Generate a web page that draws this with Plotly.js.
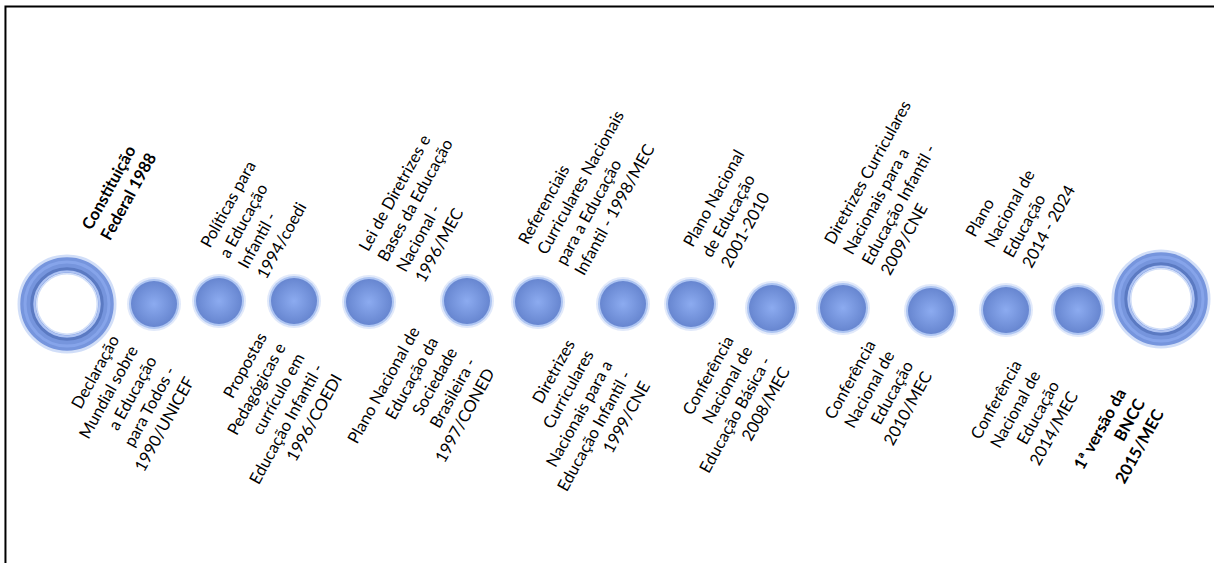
<!DOCTYPE html>
<html>
<head>
<meta charset="utf-8">
<script src="https://cdn.plot.ly/plotly-3.0.1.min.js"></script>
<style>html,body{margin:0;padding:0;background:#fff;}#chart{width:1214px;height:563px;}</style>
</head>
<body>
<div id="chart"></div>
<script>
// ---- data ----
var events = [
  "<b>Constituição<br>Federal 1988</b>",
  "Declaração<br>Mundial sobre<br>a Educação<br>para Todos -<br>1990/UNICEF",
  "Políticas para<br>a Educação<br>Infantil -<br>1994/coedi",
  "Propostas<br>Pedagógicas e<br>currículo em<br>Educação Infantil -<br>1996/COEDI",
  "Lei de Diretrizes e<br>Bases da Educação<br>Nacional -<br>1996/MEC",
  "Plano Nacional de<br>Educação da<br>Sociedade<br>Brasileira -<br>1997/CONED",
  "Referenciais<br>Curriculares Nacionais<br>para a Educação<br>Infantil - 1998/MEC",
  "Diretrizes<br>Curriculares<br>Nacionais para a<br>Educação Infantil -<br>1999/CNE",
  "Plano Nacional<br>de Educação<br>2001-2010",
  "Conferência<br>Nacional de<br>Educação Básica -<br>2008/MEC",
  "Diretrizes Curriculares<br>Nacionais para a<br>Educação Infantil -<br>2009/CNE",
  "Conferência<br>Nacional de<br>Educação<br>2010/MEC",
  "Plano<br>Nacional de<br>Educação<br>2014 - 2024",
  "Conferência<br>Nacional de<br>Educação<br>2014/MEC",
  "<b>1ª versão da<br>BNCC<br>2015/MEC</b>"
];
var years = [1988, 1990, 1994, 1996, 1996, 1997, 1998, 1999, 2001, 2008, 2009, 2010, 2014, 2014, 2015];
var xPos = [67, 154, 219, 294, 369, 467, 538, 623, 691, 772, 843, 931, 1006, 1078, 1161];
var yPos = [304, 304, 301, 301, 302, 301, 302, 304, 304, 308, 308, 311, 310, 310, 299];
var kind = ["ring","dot","dot","dot","dot","dot","dot","dot","dot","dot","dot","dot","dot","dot","ring"];
var side = ["above","below","above","below","above","below","above","below","above","below","above","below","above","below","below"];

// ---- layout helpers (label placement relative to each marker) ----
var labelOffX = [9, 46, -24, 54, -16, 33, -26, 32, -14, 23, -25, 6, -46, 5, 9];
var labelOffY = [-59, 26, -18, 26, -15, 21, -22, 31, -32, 22, -28, 24, -38, 45, 84];

function pick(arr, k) {
  var out = [];
  for (var i = 0; i < arr.length; i++) if (kind[i] === k) out.push(arr[i]);
  return out;
}
var dotX = pick(xPos, "dot"), dotY = pick(yPos, "dot");
var ringX = pick(xPos, "ring"), ringY = pick(yPos, "ring");

function ringLayer(size, width, color, withText) {
  return {x: ringX, y: ringY, mode: "markers", type: "scatter",
          text: withText ? pick(years, "ring") : null, hoverinfo: withText ? "text" : "skip",
          marker: {symbol: "circle-open", size: size, color: color, line: {width: width, color: color}}};
}

var traces = [
  // dot halo
  {x: dotX, y: dotY, mode: "markers", type: "scatter", hoverinfo: "skip",
   marker: {size: 54, color: "rgba(205,218,246,0.6)", line: {width: 0}}},
  {x: dotX, y: dotY, mode: "markers", type: "scatter", hoverinfo: "skip",
   marker: {size: 50, color: "rgba(165,190,240,0.85)", line: {width: 0}}},
  // dot sphere
  {x: dotX, y: dotY, mode: "markers", type: "scatter", text: pick(years, "dot"), hoverinfo: "text",
   marker: {size: 46, color: "#6786d0", line: {width: 0},
            gradient: {type: "radial", color: "#8cabf0"}}},
  // ring layers
  ringLayer(79, 20, "rgba(185,204,244,0.65)", false),
  ringLayer(78, 15.5, "#7695dd", true),
  ringLayer(84, 3, "#86a4ea", false),
  ringLayer(70.5, 3, "#5b7ac2", false),
  ringLayer(65, 2.2, "#aec3f3", false)
];

var annotations = events.map(function (t, i) {
  var up = side[i] === "above";
  return {
    x: xPos[i] + labelOffX[i], y: yPos[i] + labelOffY[i],
    xref: "x", yref: "y", text: t, showarrow: false, textangle: -61,
    xanchor: up ? "left" : "right", yanchor: up ? "bottom" : "top",
    align: up ? "left" : "right", borderpad: 0,
    font: {family: "Lato, 'Open Sans', sans-serif", size: 16.5, color: "#000"}
  };
});

var layout = {
  width: 1214, height: 563,
  margin: {l: 0, r: 0, t: 0, b: 0},
  paper_bgcolor: "#fff", plot_bgcolor: "#fff",
  showlegend: false,
  xaxis: {range: [0, 1214], visible: false, fixedrange: true},
  yaxis: {range: [563, 0], visible: false, fixedrange: true},
  annotations: annotations,
  shapes: [
    {type: "path", xref: "paper", yref: "paper",
     path: "M 0.0045 0 L 0.0045 0.9885 L 1 0.9885",
     line: {color: "#000", width: 2}}
  ]
};

Plotly.newPlot("chart", traces, layout, {displayModeBar: false, staticPlot: true});
</script>
</body>
</html>
